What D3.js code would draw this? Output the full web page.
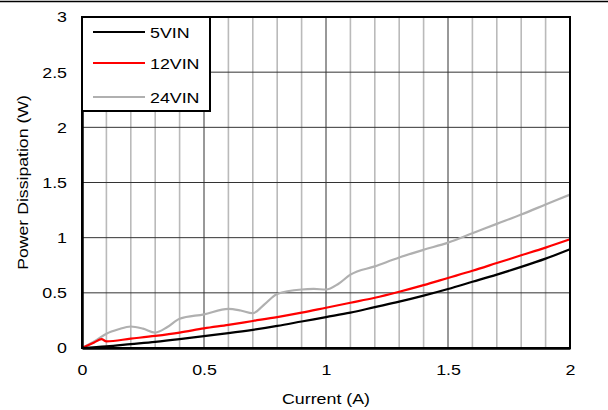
<!DOCTYPE html>
<html>
<head>
<meta charset="utf-8">
<script src="https://cdn.jsdelivr.net/npm/d3@7"></script>
<style>
  body { margin: 0; background: #fff; }
  text { font-family: "Liberation Sans", Arial, sans-serif; fill: #000; }
  .wide { transform-box: fill-box; transform: scaleX(1.15); }
</style>
</head>
<body>
<svg id="chart" width="608" height="410"></svg>
<script>
// Data
var cur5 = [0, 0.1, 0.2, 0.3, 0.4, 0.5, 0.6, 0.7, 0.8, 0.9, 1.0, 1.1, 1.2, 1.3, 1.4, 1.5, 1.6, 1.7, 1.8, 1.9, 2.0];
var pd5 = [0, 0.015, 0.035, 0.055, 0.08, 0.108, 0.135, 0.165, 0.2, 0.24, 0.28, 0.32, 0.37, 0.42, 0.475, 0.535, 0.6, 0.665, 0.735, 0.81, 0.895];

var cur12 = [0, 0.05, 0.08, 0.1, 0.2, 0.3, 0.4, 0.5, 0.6, 0.7, 0.8, 0.9, 1.0, 1.1, 1.2, 1.3, 1.4, 1.5, 1.6, 1.7, 1.8, 1.9, 2.0];
var pd12 = [0, 0.05, 0.08, 0.06, 0.085, 0.11, 0.14, 0.178, 0.21, 0.245, 0.28, 0.32, 0.365, 0.41, 0.455, 0.51, 0.57, 0.635, 0.7, 0.77, 0.84, 0.91, 0.985];

var cur24 = [0, 0.05, 0.1, 0.15, 0.2, 0.25, 0.3, 0.35, 0.4, 0.5, 0.6, 0.65, 0.7, 0.75, 0.8, 0.9, 0.95, 1.0, 1.05, 1.1, 1.2, 1.3, 1.4, 1.5, 1.6, 1.7, 1.8, 1.9, 2.0];
var pd24 = [0, 0.06, 0.13, 0.17, 0.195, 0.175, 0.14, 0.19, 0.265, 0.305, 0.355, 0.34, 0.315, 0.4, 0.49, 0.53, 0.535, 0.53, 0.58, 0.665, 0.74, 0.82, 0.89, 0.955, 1.04, 1.125, 1.21, 1.3, 1.39];

var seriesNames = ["5VIN", "12VIN", "24VIN"];
var seriesColors = ["#000000", "#ff0000", "#b0b0b0"];
var xTicks = [0, 0.5, 1, 1.5, 2];
var yTicks = [0, 0.5, 1, 1.5, 2, 2.5, 3];

var series = [
  { name: seriesNames[0], color: seriesColors[0], pts: cur5.map(function(c, i) { return [c, pd5[i]]; }) },
  { name: seriesNames[1], color: seriesColors[1], pts: cur12.map(function(c, i) { return [c, pd12[i]]; }) },
  { name: seriesNames[2], color: seriesColors[2], pts: cur24.map(function(c, i) { return [c, pd24[i]]; }) }
];

var margin = {top: 17, right: 38, bottom: 62, left: 82},
    width = 608 - margin.left - margin.right,
    height = 410 - margin.top - margin.bottom;

var svg = d3.select("#chart");

// rule across the top of the page
svg.append("line")
    .attr("x1", 0).attr("x2", 608)
    .attr("y1", 1.5).attr("y2", 1.5)
    .attr("stroke", "#000").attr("stroke-width", 1.5);

var g = svg.append("g")
    .attr("transform", "translate(" + margin.left + "," + margin.top + ")");

var x = d3.scaleLinear().domain([0, 2]).range([0, width]);
var y = d3.scaleLinear().domain([0, 3]).range([height, 0]);

// minor vertical grid (every 0.1)
g.append("g").selectAll("line")
    .data(d3.range(1, 20).map(function(i) { return i / 10; }).filter(function(v) { return Math.round(v * 10) % 5 !== 0; }))
    .enter().append("line")
    .attr("x1", function(d) { return x(d); }).attr("x2", function(d) { return x(d); })
    .attr("y1", 0).attr("y2", height)
    .attr("stroke", "#bababa").attr("stroke-width", 1.6);

// major grid
g.append("g").selectAll("line")
    .data(xTicks.slice(1, -1))
    .enter().append("line")
    .attr("x1", function(d) { return x(d); }).attr("x2", function(d) { return x(d); })
    .attr("y1", 0).attr("y2", height)
    .attr("stroke", "#333").attr("stroke-width", 1);

g.append("g").selectAll("line")
    .data(yTicks.slice(1, -1))
    .enter().append("line")
    .attr("x1", 0).attr("x2", width)
    .attr("y1", function(d) { return y(d); }).attr("y2", function(d) { return y(d); })
    .attr("stroke", "#333").attr("stroke-width", 1);

// lines
var line = d3.line()
    .x(function(d) { return x(d[0]); })
    .y(function(d) { return y(d[1]); })
    .curve(d3.curveMonotoneX);

g.selectAll(".series")
    .data(series.slice().reverse())
    .enter().append("path")
    .attr("class", "series")
    .attr("d", function(d) { return line(d.pts); })
    .attr("fill", "none")
    .attr("stroke", function(d) { return d.color; })
    .attr("stroke-width", 2.2);

// frame
g.append("rect")
    .attr("x", 0).attr("y", 0)
    .attr("width", width).attr("height", height)
    .attr("fill", "none").attr("stroke", "#000").attr("stroke-width", 2);

// axes
var xAxis = g.append("g")
    .attr("transform", "translate(0," + height + ")")
    .call(d3.axisBottom(x).tickValues(xTicks).tickSize(0).tickPadding(16).tickFormat(d3.format("")));
var yAxis = g.append("g")
    .call(d3.axisLeft(y).tickValues(yTicks).tickSize(0).tickPadding(15).tickFormat(d3.format("")));
[xAxis, yAxis].forEach(function(a) {
    a.select(".domain").attr("stroke", "#000").attr("stroke-width", 2.5);
    a.selectAll("text")
        .attr("class", "wide")
        .style("font-size", "15.5px")
        .style("font-family", "Liberation Sans, Arial, sans-serif");
});
xAxis.selectAll("text").style("transform-origin", "center");
yAxis.selectAll("text").style("transform-origin", "right");

// axis titles
svg.append("text")
    .attr("class", "wide")
    .attr("x", margin.left + width / 2).attr("y", 404)
    .attr("text-anchor", "middle")
    .style("transform-origin", "center")
    .style("font-size", "15.5px")
    .text("Current (A)");

svg.append("text")
    .attr("transform", "translate(28," + (margin.top + height / 2) + ") rotate(-90) scale(1.14,1)")
    .attr("text-anchor", "middle")
    .style("font-size", "15.5px")
    .text("Power Dissipation (W)");

// legend
var legend = g.append("g");
legend.append("rect")
    .attr("x", 0).attr("y", 0)
    .attr("width", 128).attr("height", 94)
    .attr("fill", "#fff").attr("stroke", "#000").attr("stroke-width", 2);

var items = legend.selectAll(".item")
    .data(series)
    .enter().append("g")
    .attr("transform", function(d, i) { return "translate(0," + [15, 46, 80][i] + ")"; });
items.append("line")
    .attr("x1", 11).attr("x2", 63)
    .attr("stroke", function(d) { return d.color; })
    .attr("stroke-width", 2.2);
items.append("text")
    .attr("class", "wide")
    .attr("x", 68).attr("dy", "0.36em")
    .style("transform-origin", "left")
    .style("font-size", "15.5px")
    .text(function(d) { return d.name; });
</script>
</body>
</html>
